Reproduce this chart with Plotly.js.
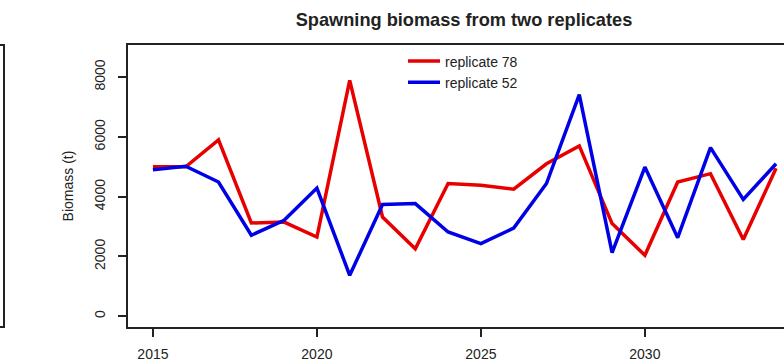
<!DOCTYPE html>
<html>
<head>
<meta charset="utf-8">
<script src="https://cdn.plot.ly/plotly-3.0.1.min.js"></script>
<style>
html, body { margin: 0; padding: 0; overflow: hidden; background: #fff; }
#chart { width: 820px; height: 362px; }
</style>
</head>
<body>
<div id="chart"></div>
<script>
const years = [2015, 2016, 2017, 2018, 2019, 2020, 2021, 2022, 2023, 2024,
               2025, 2026, 2027, 2028, 2029, 2030, 2031, 2032, 2033, 2034];
const replicate78 = [5000, 5000, 5900, 3120, 3150, 2650, 7890, 3320, 2260, 4440,
                     4380, 4250, 5100, 5700, 3100, 2040, 4490, 4770, 2570, 4950];
const replicate52 = [4900, 5020, 4490, 2710, 3210, 4290, 1370, 3740, 3770, 2820,
                     2430, 2950, 4440, 7410, 2130, 4990, 2630, 5640, 3910, 5100];
const seriesNames = ['replicate 78', 'replicate 52'];
const xTicks = [2015, 2020, 2025, 2030];
const yTicks = [0, 2000, 4000, 6000, 8000];

const font = { family: 'Liberation Sans, Arial, sans-serif', color: '#222' };

const traces = [
  { x: years, y: replicate78, name: seriesNames[0], type: 'scatter', mode: 'lines',
    line: { color: '#e80000', width: 3.5 } },
  { x: years, y: replicate52, name: seriesNames[1], type: 'scatter', mode: 'lines',
    line: { color: '#0000e6', width: 3.5 } }
];

const axisCommon = {
  showgrid: false, zeroline: false, showline: true, mirror: true,
  linecolor: '#222', linewidth: 2, ticks: 'outside', ticklen: 8,
  tickwidth: 2, tickcolor: '#222', tickfont: { ...font, size: 14 }
};

const layout = {
  width: 820, height: 362,
  margin: { l: 128, r: 19, t: 45, b: 35 },
  paper_bgcolor: '#fff', plot_bgcolor: '#fff',
  font: font,
  title: { text: '<b>Spawning biomass from two replicates</b>',
           font: { ...font, size: 18.2 },
           x: 464 / 820, xanchor: 'center', xref: 'container',
           y: 1 - 20 / 362, yanchor: 'middle', yref: 'container' },
  xaxis: { ...axisCommon, range: [2014.24, 2034.76], tickvals: xTicks,
           ticktext: xTicks.map(String), ticklabelstandoff: 5 },
  yaxis: { ...axisCommon, range: [-358, 9073], tickvals: yTicks,
           ticktext: yTicks.map(String), tickangle: -90, ticklabelstandoff: 7,
           title: { text: 'Biomass (t)', font: { ...font, size: 14 }, standoff: 16 } },
  showlegend: true,
  legend: { x: (403 - 128) / 673, xanchor: 'left', y: (326.7 - 45.5) / 281.7, yanchor: 'top',
            itemwidth: 32,
            bgcolor: 'rgba(0,0,0,0)', borderwidth: 0, font: { ...font, size: 14 } },
  shapes: [
    { type: 'rect', xref: 'paper', yref: 'paper', x0: -0.3, x1: -124 / 673, y0: 0, y1: 1,
      line: { color: '#222', width: 2 }, fillcolor: 'rgba(0,0,0,0)' }
  ]
};

Plotly.newPlot('chart', traces, layout, { displayModeBar: false, staticPlot: true });
</script>
</body>
</html>
